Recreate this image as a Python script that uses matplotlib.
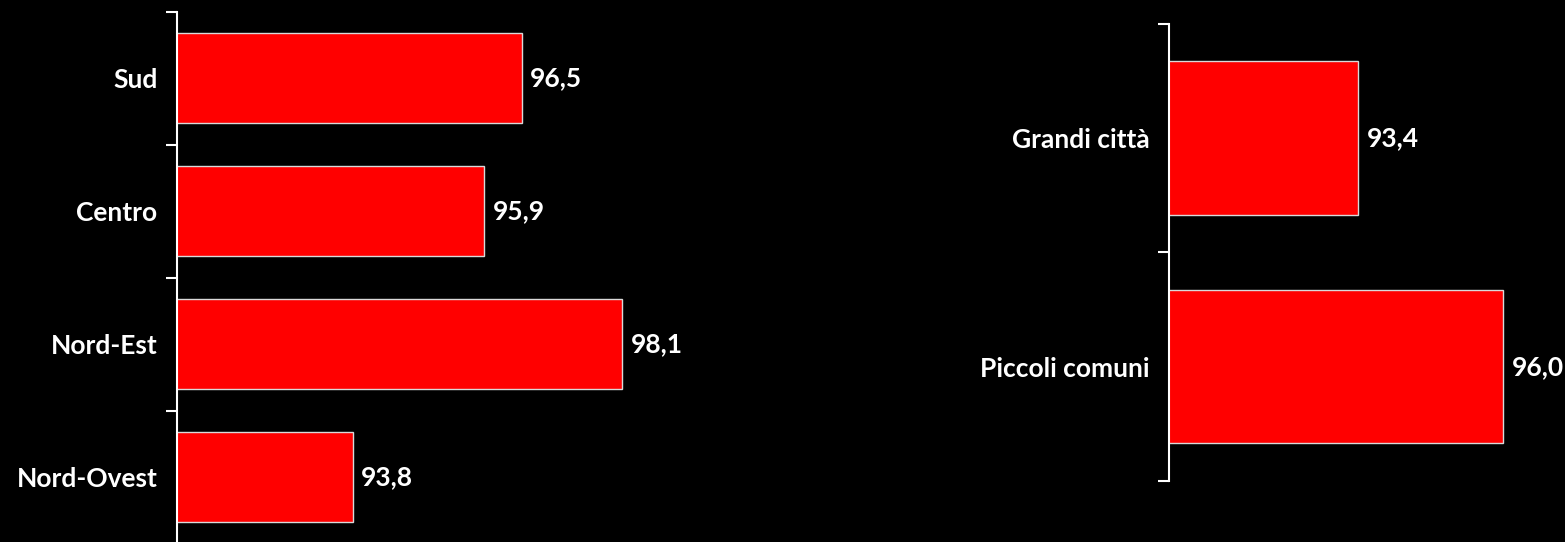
import numpy as np
import matplotlib
matplotlib.use('Agg')
import matplotlib.pyplot as plt

# dati
regioni = ['Sud', 'Centro', 'Nord-Est', 'Nord-Ovest']
valori_regioni = [96.5, 95.9, 98.1, 93.8]

comuni = ['Grandi città', 'Piccoli comuni']
valori_comuni = [93.4, 96.0]

plt.rcParams['font.family'] = ['Lato', 'DejaVu Sans']
plt.rcParams['font.weight'] = 'bold'

fig = plt.figure(figsize=(15.65, 5.42), dpi=100, facecolor='black')

def barre(ax, labels, values, xmin, xmax):
    ax.set_facecolor('black')
    y = np.arange(len(labels))
    ax.barh(y, values, height=0.67, left=0, color='#ff0000',
            edgecolor='#d9d9d9', linewidth=1)
    ax.set_xlim(xmin, xmax)
    ax.set_ylim(len(labels) - 0.5, -0.5)

    for spine in ['top', 'right', 'bottom']:
        ax.spines[spine].set_visible(False)
    ax.spines['left'].set_color('white')
    ax.spines['left'].set_linewidth(1.5)

    ax.set_xticks([])
    ax.set_yticks(y)
    ax.set_yticklabels(labels, color='white', fontsize=19, fontweight='bold')
    ax.tick_params(axis='y', which='major', length=0, pad=14)
    ax.set_yticks(np.arange(len(labels) + 1) - 0.5, minor=True)
    ax.tick_params(axis='y', which='minor', length=8, width=1.5, color='white')

    for yi, v in zip(y, values):
        ax.annotate(f'{v:.1f}'.replace('.', ','), xy=(v, yi), xytext=(6, 0),
                    textcoords='offset points', ha='left', va='center',
                    color='white', fontsize=19, fontweight='bold')

ax1 = fig.add_axes([177 / 1565, 1 - 543.5 / 542, 564.5 / 1565, 532 / 542])
barre(ax1, regioni, valori_regioni, 91, 100)

ax2 = fig.add_axes([1169 / 1565, 1 - 481 / 542, 390 / 1565, 457.3 / 542])
barre(ax2, comuni, valori_comuni, 90, 97)

fig.savefig('out.png', dpi=100, facecolor='black')
